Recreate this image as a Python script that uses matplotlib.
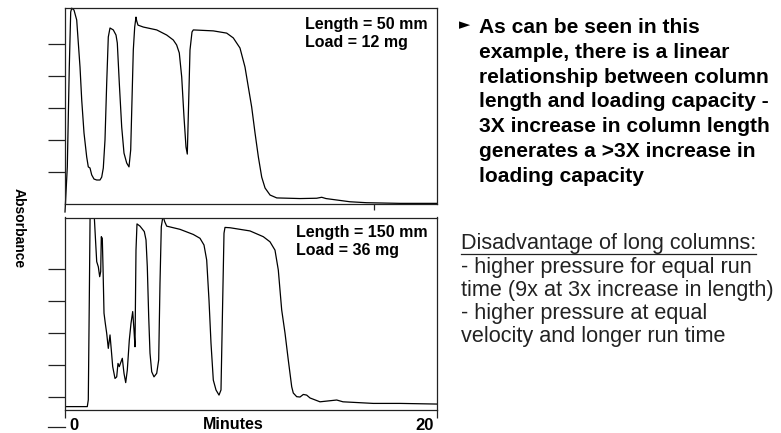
import matplotlib.pyplot as plt
from matplotlib.lines import Line2D

W, H = 781, 433

# 50 mm column, 12 mg load
top_min = [0.0, 0.124, 0.231, 0.307, 0.361, 0.485, 0.63, 0.808, 0.90, 1.023,
           1.168, 1.254, 1.346, 1.437, 1.561, 1.707, 1.884, 1.976, 2.062, 2.153,
           2.245, 2.331, 2.423, 2.60, 2.746, 2.816, 2.923, 3.052, 3.176, 3.322,
           3.445, 3.537, 3.607, 3.677, 3.752, 3.822, 3.86, 3.93, 4.215, 4.937,
           5.475, 5.83, 6.01, 6.153, 6.283, 6.406, 6.514, 6.584, 6.66, 6.729,
           6.837, 6.907, 7.984, 8.705, 9.06, 9.42, 9.69, 9.868, 10.05, 10.23,
           10.41, 10.59, 10.77, 11.04, 11.40, 12.65, 13.55, 13.82, 14.05, 14.63,
           15.34, 16.24, 18.03, 20.0]
top_abs = [-0.25, 1.16, 4.28, 6.0, 6.12, 6.06, 5.75, 4.28, 3.25, 2.22,
           1.47, 1.16, 1.125, 0.91, 0.78, 0.75, 0.75, 0.84, 1.125, 2.0,
           3.78, 5.22, 5.5, 5.44, 5.28, 5.03, 3.78, 2.41, 1.59, 1.28,
           1.16, 1.69, 3.25, 4.81, 5.53, 5.84, 5.72, 5.59, 5.53, 5.44,
           5.28, 5.125, 4.97, 4.72, 3.97, 2.72, 1.78, 1.56, 3.25, 4.81,
           5.375, 5.44, 5.41, 5.34, 5.19, 4.875, 4.28, 3.66, 3.03, 2.22,
           1.47, 0.84, 0.5, 0.28, 0.19, 0.17, 0.18, 0.21, 0.17, 0.125,
           0.07, 0.04, 0.02, 0.02]

# 150 mm column, 36 mg load
bottom_min = [0.03, 1.20, 1.254, 1.308, 1.35, 1.46, 1.577, 1.653, 1.707, 1.793,
              1.868, 1.922, 1.954, 2.008, 2.046, 2.10, 2.17, 2.245, 2.331, 2.423,
              2.493, 2.568, 2.692, 2.783, 2.853, 2.923, 3.015, 3.085, 3.176, 3.268,
              3.354, 3.462, 3.553, 3.645, 3.715, 3.768, 3.822, 3.876, 4.038, 4.269,
              4.361, 4.431, 4.506, 4.576, 4.668, 4.791, 4.937, 5.044, 5.114, 5.184,
              5.276, 5.367, 5.475, 6.191, 6.907, 7.268, 7.483, 7.628, 7.752, 7.86,
              7.984, 8.129, 8.291, 8.398, 8.49, 8.56, 8.614, 8.883, 9.96, 10.676,
              11.036, 11.305, 11.483, 11.575, 11.666, 11.844, 12.02, 12.205, 12.29, 12.474,
              12.652, 12.83, 13.01, 13.19, 13.728, 14.627, 14.966, 16.598, 18.035, 20.0]
bottom_abs = [0.70, 0.70, 0.91, 4.03, 6.63, 7.6, 6.63, 5.80, 5.23, 5.07,
              4.76, 4.92, 6.01, 5.96, 5.07, 3.62, 3.30, 2.99, 2.52, 2.94,
              2.47, 1.95, 1.58, 1.63, 2.05, 1.95, 2.10, 2.21, 1.74, 1.45,
              1.84, 2.78, 3.30, 3.67, 3.09, 2.57, 5.59, 6.41, 6.34, 6.17,
              5.91, 5.07, 3.51, 2.37, 1.79, 1.63, 1.74, 2.16, 4.55, 6.32,
              6.66, 6.48, 6.34, 6.24, 6.08, 5.96, 5.75, 5.28, 4.03, 2.68,
              1.53, 1.22, 1.06, 1.22, 4.03, 6.12, 6.30, 6.29, 6.19, 6.01,
              5.85, 5.59, 4.97, 4.34, 3.72, 3.00, 2.16, 1.32, 1.125, 1.01,
              1.00, 1.08, 1.06, 0.97, 0.85, 0.906, 0.85, 0.80, 0.80, 0.78]

top_label = ["Length = 50 mm", "Load = 12 mg"]
bottom_label = ["Length = 150 mm", "Load = 36 mg"]
x_labels = ["0", "20"]
bullet_lines = ["As can be seen in this",
                "example, there is a linear",
                "relationship between column",
                "length and loading capacity -",
                "3X increase in column length",
                "generates a >3X increase in",
                "loading capacity"]
note_title = "Disadvantage of long columns:"
note_lines = ["- higher pressure for equal run",
              "time (9x at 3x increase in length)",
              "- higher pressure at equal",
              "velocity and longer run time"]

plt.rcParams['font.family'] = ['Liberation Sans', 'DejaVu Sans']
FRAME = '#222222'


def fx(x):
    return x / W


def fy(y):
    return 1 - y / H


fig = plt.figure(figsize=(W / 100, H / 100), dpi=100)


def panel(left, top, right, bottom, xs, ys, ylim, clip):
    ax = fig.add_axes([fx(left), fy(bottom), (right - left) / W, (bottom - top) / H])
    ax.plot(xs, ys, color='black', lw=0.9, clip_on=clip)
    ax.set_xlim(0, 20)
    ax.set_ylim(*ylim)
    for s in ax.spines.values():
        s.set_linewidth(0.9)
        s.set_color(FRAME)
    ax.set_yticks([1, 2, 3, 4, 5])
    ax.tick_params(axis='y', direction='out', length=12, width=0.9,
                   color=FRAME, labelleft=False)
    ax.tick_params(axis='x', direction='out', width=0.9, color=FRAME,
                   labelbottom=False)
    return ax


ax1 = panel(65, 8, 436.5, 204, top_min, top_abs, (0, 6.125), False)
ax1.set_xticks([16.63])
ax1.tick_params(axis='x', length=4.5)

ax2 = panel(65, 217.5, 436.5, 410, bottom_min, bottom_abs, (0.594, 6.61), True)
ax2.set_xticks([0, 20])
ax2.tick_params(axis='x', length=5.8)

# panel captions
for lines, x, ys in [(top_label, 305, (28.5, 46.5)), (bottom_label, 296, (237, 255))]:
    for txt, y in zip(lines, ys):
        fig.text(fx(x), fy(y), txt, ha='left', va='baseline',
                 fontsize=11.5, fontweight='bold')

# axis texts
fig.text(fx(19), fy(228), "Absorbance", rotation=270, ha='center', va='center',
         fontsize=10, fontweight='bold')
fig.text(fx(233), fy(429), "Minutes", ha='center', va='baseline',
         fontsize=11.5, fontweight='bold')
fig.text(fx(74), fy(430), x_labels[0], ha='center', va='baseline',
         fontsize=12, fontweight='bold')
fig.text(fx(425), fy(430), x_labels[1], ha='center', va='baseline',
         fontsize=12, fontweight='bold')
fig.add_artist(Line2D([fx(48), fx(65)], [fy(427), fy(427)], color=FRAME, lw=0.9,
                      transform=fig.transFigure))

# bullet point
fig.text(fx(459), fy(29.5), "\u25ba", ha='left', va='baseline', fontsize=10.5,
         family=['DejaVu Sans'])
for i, txt in enumerate(bullet_lines):
    fig.text(fx(479), fy(33 + 24.8 * i), txt, ha='left', va='baseline',
             fontsize=15.1, fontweight='bold')

# note on long columns
title = fig.text(fx(461), fy(249.3), note_title, ha='left', va='baseline',
                 fontsize=15.6, color='#222222')
for i, txt in enumerate(note_lines):
    fig.text(fx(461), fy(272.5 + 23.1 * i), txt, ha='left', va='baseline',
             fontsize=15.6, color='#222222')

fig.canvas.draw()
bb = title.get_window_extent().transformed(fig.transFigure.inverted())
fig.add_artist(Line2D([bb.x0, bb.x1], [fy(253.5), fy(253.5)], color='#222222',
                      lw=0.9, transform=fig.transFigure))

fig.savefig('out.png', dpi=100)
